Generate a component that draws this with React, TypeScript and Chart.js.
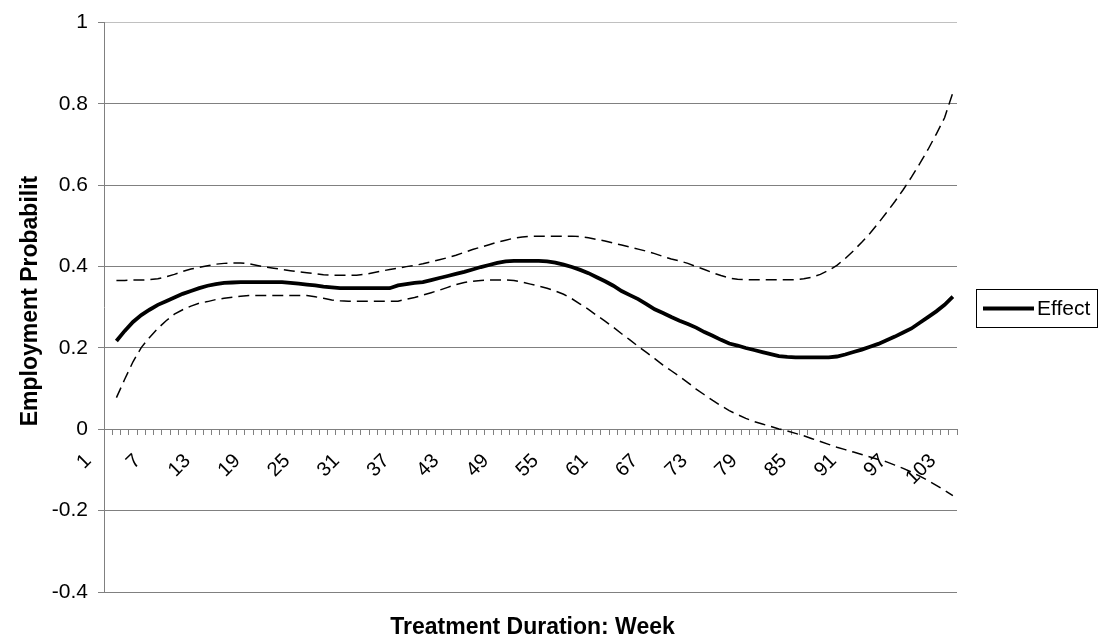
import { useEffect, useRef } from 'react';
import { Chart, registerables } from 'chart.js';

Chart.register(...registerables);

const FONT = "'Liberation Sans', Arial, sans-serif";

const weeks: string[] = [
  '1','2','3','4','5','6','7','8','9','10','11','12','13','14','15','16','17','18','19','20',
  '21','22','23','24','25','26','27','28','29','30','31','32','33','34','35','36','37','38','39','40',
  '41','42','43','44','45','46','47','48','49','50','51','52','53','54','55','56','57','58','59','60',
  '61','62','63','64','65','66','67','68','69','70','71','72','73','74','75','76','77','78','79','80',
  '81','82','83','84','85','86','87','88','89','90','91','92','93','94','95','96','97','98','99','100',
  '101','102','103',
];

const xTitle = 'Treatment Duration: Week';
const yTitle = 'Employment Probabilit';
const legendLabel = 'Effect';

// Effect (solid), weeks 1..103 (week 1 empty)
const effect: (number | null)[] = [
  null, 0.217, 0.242, 0.264, 0.281, 0.294, 0.306, 0.315, 0.324, 0.333,
  0.340, 0.347, 0.353, 0.357, 0.360, 0.361, 0.362, 0.362, 0.362, 0.362,
  0.362, 0.362, 0.360, 0.358, 0.356, 0.354, 0.351, 0.349, 0.347, 0.347,
  0.347, 0.347, 0.347, 0.347, 0.347, 0.354, 0.357, 0.360, 0.362, 0.367,
  0.372, 0.377, 0.382, 0.387, 0.393, 0.399, 0.404, 0.409, 0.413, 0.414,
  0.414, 0.414, 0.414, 0.413, 0.410, 0.405, 0.399, 0.392, 0.384, 0.374,
  0.364, 0.353, 0.340, 0.330, 0.320, 0.308, 0.295, 0.286, 0.276, 0.267,
  0.259, 0.250, 0.239, 0.230, 0.220, 0.211, 0.206, 0.200, 0.195, 0.190,
  0.185, 0.180, 0.178, 0.177, 0.177, 0.177, 0.177, 0.177, 0.179, 0.184,
  0.190, 0.196, 0.203, 0.210, 0.219, 0.228, 0.238, 0.248, 0.262, 0.276,
  0.290, 0.306, 0.326,
];

// Upper bound (dashed)
const upper: (number | null)[] = [
  null, 0.366, 0.366, 0.367, 0.367, 0.368, 0.370, 0.375, 0.381, 0.388,
  0.394, 0.398, 0.402, 0.406, 0.408, 0.409, 0.409, 0.407, 0.403, 0.399,
  0.396, 0.393, 0.390, 0.387, 0.385, 0.383, 0.380, 0.379, 0.379, 0.379,
  0.379, 0.381, 0.385, 0.389, 0.393, 0.396, 0.400, 0.403, 0.407, 0.412,
  0.417, 0.422, 0.428, 0.435, 0.442, 0.448, 0.454, 0.460, 0.465, 0.470,
  0.473, 0.475, 0.475, 0.475, 0.475, 0.475, 0.475, 0.474, 0.471, 0.467,
  0.463, 0.458, 0.453, 0.448, 0.443, 0.438, 0.432, 0.425, 0.419, 0.414,
  0.408, 0.400, 0.393, 0.385, 0.378, 0.372, 0.369, 0.368, 0.368, 0.368,
  0.368, 0.368, 0.368, 0.368, 0.370, 0.374, 0.381, 0.391, 0.403, 0.420,
  0.439, 0.460, 0.482, 0.507, 0.533, 0.560, 0.589, 0.620, 0.653, 0.688,
  0.726, 0.766, 0.828,
];

// Lower bound (dashed)
const lower: (number | null)[] = [
  null, 0.078, 0.123, 0.166, 0.201, 0.226, 0.248, 0.267, 0.283, 0.294,
  0.303, 0.310, 0.314, 0.319, 0.322, 0.325, 0.327, 0.329, 0.329, 0.329,
  0.329, 0.329, 0.329, 0.329, 0.329, 0.326, 0.322, 0.318, 0.316, 0.315,
  0.315, 0.315, 0.315, 0.315, 0.315, 0.315, 0.320, 0.324, 0.330, 0.336,
  0.342, 0.349, 0.356, 0.361, 0.364, 0.366, 0.367, 0.367, 0.367, 0.366,
  0.362, 0.357, 0.352, 0.347, 0.340, 0.332, 0.321, 0.308, 0.295, 0.280,
  0.266, 0.251, 0.235, 0.220, 0.204, 0.189, 0.174, 0.158, 0.144, 0.130,
  0.115, 0.099, 0.085, 0.071, 0.058, 0.046, 0.036, 0.027, 0.019, 0.013,
  0.007, 0.001, -0.004, -0.010, -0.016, -0.023, -0.030, -0.037, -0.044, -0.050,
  -0.056, -0.062, -0.068, -0.074, -0.080, -0.088, -0.096, -0.105, -0.115, -0.126,
  -0.138, -0.150, -0.163,
];

const decorPlugin = {
  id: 'decor',
  afterDraw(chart: any) {
    const ctx = chart.ctx;
    const area = chart.chartArea;
    ctx.save();
    // legend box
    const x0 = 976.5, y0 = 289.5, w = 121, h = 38;
    ctx.strokeStyle = '#000';
    ctx.lineWidth = 1;
    ctx.strokeRect(x0, y0, w, h);
    ctx.beginPath();
    ctx.lineWidth = 3.8;
    ctx.moveTo(983, y0 + h / 2);
    ctx.lineTo(1034, y0 + h / 2);
    ctx.stroke();
    ctx.fillStyle = '#000';
    ctx.font = `21px ${FONT}`;
    ctx.textBaseline = 'middle';
    ctx.textAlign = 'left';
    ctx.fillText(legendLabel, 1037, y0 + h / 2 + 1);

    // x axis title
    ctx.font = `bold 23px ${FONT}`;
    ctx.textAlign = 'center';
    ctx.textBaseline = 'middle';
    ctx.fillText(xTitle, (area.left + area.right) / 2 + 2, 628);

    // y axis title
    ctx.translate(31, 301);
    ctx.rotate(-Math.PI / 2);
    ctx.font = `bold 23px ${FONT}`;
    ctx.textAlign = 'center';
    ctx.textBaseline = 'middle';
    ctx.fillText(yTitle, 0, 0);
    ctx.restore();
  },
};

export default function App() {
  const ref = useRef<HTMLCanvasElement | null>(null);

  useEffect(() => {
    if (!ref.current) return;
    Chart.defaults.font.family = FONT;
    const chart = new Chart(ref.current, {
      type: 'line',
      data: {
        labels: weeks,
        datasets: [
          {
            label: 'Effect',
            data: effect,
            borderColor: '#000',
            borderWidth: 3.8,
            pointRadius: 0,
            tension: 0,
          },
          {
            label: 'Upper',
            data: upper,
            borderColor: '#000',
            borderWidth: 1.5,
            borderDash: [11, 6],
            pointRadius: 0,
            tension: 0,
          },
          {
            label: 'Lower',
            data: lower,
            borderColor: '#000',
            borderWidth: 1.5,
            borderDash: [11, 6],
            pointRadius: 0,
            tension: 0,
          },
        ],
      },
      options: {
        animation: false,
        responsive: false,
        maintainAspectRatio: false,
        layout: { padding: { left: 0, top: 22, right: 146, bottom: 49 } },
        plugins: {
          legend: { display: false },
          tooltip: { enabled: false },
          title: { display: false },
        },
        scales: {
          x: {
            type: 'category',
            offset: true,
            position: { y: 0 } as any,
            grid: {
              offset: true,
              drawOnChartArea: false,
              drawTicks: true,
              tickLength: 5,
              color: '#808080',
            },
            border: { color: '#808080', width: 1 },
            ticks: {
              autoSkip: false,
              minRotation: 45,
              maxRotation: 45,
              color: '#000',
              font: { size: 20, family: FONT },
              padding: 15,
              labelOffset: -20,
              callback: (_v: any, i: number) => (i % 6 === 0 ? weeks[i] : ''),
            },
          },
          y: {
            min: -0.4,
            max: 1,
            ticks: {
              stepSize: 0.2,
              color: '#000',
              font: { size: 21, family: FONT },
              padding: 10,
              callback: (v: any) => String(Math.round(Number(v) * 10) / 10),
            },
            grid: {
              color: (c: any) => (c.tick && Math.abs(c.tick.value - 1) < 1e-6 ? '#c0c0c0' : '#808080'),
              tickColor: '#808080',
              tickLength: 6,
              lineWidth: 1,
            },
            border: { color: '#808080', width: 1 },
            title: { display: false },
            afterFit: (s: any) => {
              s.width = 104;
            },
          },
        },
      },
      plugins: [decorPlugin],
    });
    return () => chart.destroy();
  }, []);

  return (
    <div style={{ position: 'absolute', left: 0, top: 0, width: 1103, height: 641, background: '#fff' }}>
      <canvas ref={ref} width={1103} height={641} />
    </div>
  );
}
